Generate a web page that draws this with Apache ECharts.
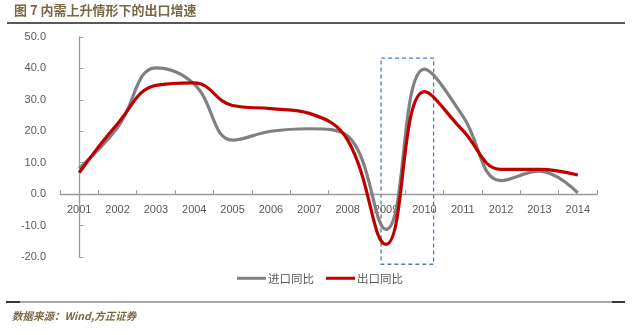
<!DOCTYPE html>
<html><head><meta charset="utf-8">
<script src="https://cdn.jsdelivr.net/npm/echarts@6/dist/echarts.min.js"></script>
<style>html,body{margin:0;padding:0;background:#fff}#c{width:640px;height:335px}</style>
</head><body><div id="c"></div>
<script>
const categories = ['2001','2002','2003','2004','2005','2006','2007','2008','2009','2010','2011','2012','2013','2014'];
const importYoY = [8.2, 21.2, 40.2, 35.0, 17.2, 20.0, 20.8, 18.5, -11.2, 39.8, 24.9, 4.3, 7.3, 0.4];
const exportYoY = [6.8, 22.4, 34.6, 35.4, 28.2, 27.2, 25.7, 17.2, -16.0, 32.6, 20.3, 7.9, 7.9, 6.1];
const seriesNames = ['进口同比', '出口同比'];
const yTicks = { min: -20, max: 50, interval: 10 };
// highlight box in data units: [index from, index to], [value top, value bottom]
const boxX = [7.87, 9.24];
const boxY = [43.3, -22.3];
const titleText = '图 7 内需上升情形下的出口增速';
const sourceText = '数据来源：Wind,方正证券';

const chart = echarts.init(document.getElementById('c'), null, {renderer: 'canvas'});
const axisColor = '#9a9a9a';
const labelColor = '#595959';
const gridBottom = 78;
const baseOption = {
  animation: false,
  backgroundColor: '#fff',
  grid: { left: 60, right: 43, top: 37, bottom: gridBottom },
  legend: {
    data: seriesNames,
    bottom: 46,
    left: 'center',
    itemGap: 12,
    itemWidth: 29,
    itemHeight: 3,
    icon: 'rect',
    textStyle: { color: labelColor, fontSize: 11.5, fontFamily: 'Noto Sans CJK SC', padding: [0, 0, 0, -3] }
  },
  xAxis: [{
    type: 'category',
    data: categories,
    boundaryGap: true,
    axisLine: { onZero: false, lineStyle: { color: axisColor, width: 1.3 } },
    axisTick: { show: true, inside: true, length: 4, lineStyle: { color: axisColor } },
    axisLabel: { color: labelColor, fontSize: 11, fontFamily: 'Liberation Sans', margin: 10 },
    splitLine: { show: false }
  }, {
    type: 'value', min: -0.5, max: 13.5, show: false
  }],
  yAxis: {
    type: 'value',
    min: yTicks.min, max: yTicks.max, interval: yTicks.interval,
    axisLine: { show: true, lineStyle: { color: axisColor, width: 1.3 } },
    axisTick: { show: true, inside: true, length: 4, lineStyle: { color: axisColor } },
    axisLabel: { color: labelColor, fontSize: 11, fontFamily: 'Liberation Sans', margin: 14,
      formatter: v => v.toFixed(1) },
    splitLine: { show: false }
  },
  series: [{
    name: seriesNames[0], type: 'line', data: importYoY, smooth: 0.42,
    symbol: 'none', lineStyle: { color: '#808080', width: 3.2 }, itemStyle: { color: '#808080' }
  }, {
    name: seriesNames[1], type: 'line', data: exportYoY, smooth: 0.42,
    symbol: 'none', lineStyle: { color: '#c00000', width: 3.2 }, itemStyle: { color: '#c00000' }
  }]
};
chart.setOption(baseOption);

// place the category axis on the zero line (computed from the value scale)
const zeroY = chart.convertToPixel({ yAxisIndex: 0 }, 0);
const bottomY = chart.convertToPixel({ yAxisIndex: 0 }, yTicks.min);
chart.setOption({ xAxis: [{ offset: zeroY - bottomY }, {}] });

const p1 = chart.convertToPixel({ xAxisIndex: 1, yAxisIndex: 0 }, [boxX[0], boxY[0]]);
const p2 = chart.convertToPixel({ xAxisIndex: 1, yAxisIndex: 0 }, [boxX[1], boxY[1]]);
chart.setOption({
  graphic: [
    { type: 'text', left: 14, top: 4, style: { text: titleText, fill: '#7a6844', font: 'bold 13px "Noto Sans CJK SC"' } },
    { type: 'line', shape: { x1: 7, y1: 23, x2: 625, y2: 23 }, style: { stroke: '#222', lineWidth: 1.5 } },
    { type: 'line', shape: { x1: 6, y1: 302, x2: 625, y2: 302 }, style: { stroke: '#8a8a8a', lineWidth: 1.5 } },
    { type: 'line', shape: { x1: 6, y1: 302, x2: 20, y2: 302 }, style: { stroke: '#111', lineWidth: 1.5 } },
    { type: 'line', shape: { x1: 612, y1: 302, x2: 625, y2: 302 }, style: { stroke: '#111', lineWidth: 1.5 } },
    { type: 'text', left: 12, top: 311, style: { text: sourceText, fill: '#7a6844', font: 'italic bold 10.5px "Noto Sans CJK SC"' } },
    { type: 'rect', shape: { x: p1[0], y: p1[1], width: p2[0] - p1[0], height: p2[1] - p1[1] },
      style: { fill: 'none', stroke: '#4a7eb0', lineWidth: 1.3, lineDash: [4, 3] } }
  ]
});
</script></body></html>
